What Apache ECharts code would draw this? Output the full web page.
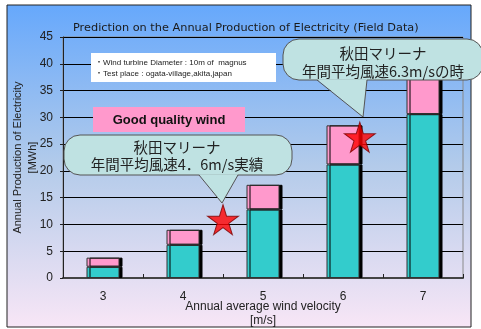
<!DOCTYPE html>
<html><head><meta charset="utf-8">
<script src="https://cdn.jsdelivr.net/npm/echarts@6/dist/echarts.min.js"></script>
<style>html,body{margin:0;padding:0;background:#fff}#c{width:481px;height:329px}</style>
</head><body><div id="c"></div>
<script>
// ---- data ----
const categories = ['3', '4', '5', '6', '7'];
const measuredValues = [2.1, 6.2, 12.8, 21.2, 30.6];   // teal segment
const extraValues = [1.7, 2.8, 4.6, 7.3, 8.4];         // pink segment on top
const starPoints = [[4.5, 10.9], [6.21, 26.3]];        // [wind velocity, MWh]
const yMin = 0, yMax = 45, yStep = 5;
const titleText = 'Prediction on the Annual Production of Electricity (Field Data)';
const yAxisName = 'Annual Production of Electricity\n[MWh]';
const xAxisName = 'Annual average wind velocity\n[m/s]';
const noteLines = ['・Wind turbine Diameter : 10m of  magnus', '・Test place : ogata-village,akita,japan'];
const badgeText = 'Good quality wind';
const callout1Lines = ['秋田マリーナ', '年間平均風速4．6m/s実績'];
const callout2Lines = ['秋田マリーナ', '年間平均風速6.3m/sの時'];

const FONT = '"Liberation Sans", Arial, "Noto Sans CJK JP", sans-serif';
const CJK = '"Noto Sans CJK JP", "Liberation Sans", sans-serif';
const starPath = 'path://M50,0 L61,35 L98,35 L68,57 L79,91 L50,70 L21,91 L32,57 L2,35 L39,35 Z';
const bubbleFill = '#bfe2e2';
const bubbleStroke = '#555';

const chart = echarts.init(document.getElementById('c'), null, {renderer: 'canvas'});

const shadowStyle = {shadowColor: '#000', shadowBlur: 0, shadowOffsetX: 3, shadowOffsetY: 0};

chart.setOption({
  animation: false,
  backgroundColor: '#fff',
  title: {
    text: titleText, left: 68, top: 18,
    textStyle: {fontFamily: '"DejaVu Sans", sans-serif', fontSize: 11.3, fontWeight: 'normal', color: '#1a1a1a'}
  },
  grid: {left: 63, right: 18, top: 37, bottom: 51, containLabel: false, outerBoundsMode: 'none',
         show: true, backgroundColor: 'transparent', borderColor: '#8a8a8a', borderWidth: 1},
  xAxis: [{
    type: 'category', data: categories,
    axisLine: {lineStyle: {color: '#444', width: 2}},
    axisTick: {show: true, inside: true, length: 4, lineStyle: {color: '#222'}},
    axisLabel: {fontFamily: FONT, fontSize: 12, color: '#222', margin: 13},
    name: xAxisName, nameLocation: 'middle', nameGap: 22, nameMoveOverlap: false,
    nameTextStyle: {fontFamily: FONT, fontSize: 12, color: '#222', lineHeight: 14}
  }, {
    type: 'value', min: 2.5, max: 7.5, show: false
  }],
  yAxis: {
    type: 'value', min: yMin, max: yMax, interval: yStep,
    axisLine: {show: true, lineStyle: {color: '#222', width: 1}},
    axisTick: {show: true, length: 3, lineStyle: {color: '#222'}},
    axisLabel: {fontFamily: FONT, fontSize: 12, color: '#222', margin: 10},
    splitLine: {lineStyle: {color: '#000', width: 1}},
    name: yAxisName, nameLocation: 'middle', nameGap: 23, nameMoveOverlap: false,
    nameTextStyle: {fontFamily: FONT, fontSize: 11, color: '#222', lineHeight: 15}
  },
  series: [{
    type: 'bar', stack: 'a', data: measuredValues, barWidth: 33,
    itemStyle: Object.assign({color: '#33cccc', borderColor: '#333', borderWidth: 1}, shadowStyle)
  }, {
    type: 'bar', stack: 'a', data: extraValues, barWidth: 33,
    itemStyle: Object.assign({color: '#ff99cc', borderColor: '#333', borderWidth: 1}, shadowStyle)
  }, {
    type: 'scatter', xAxisIndex: 1, data: starPoints, symbol: starPath, symbolSize: [31, 30], z: 20,
    itemStyle: {color: '#ff0000', borderColor: '#7a0000', borderWidth: 1}
  }],
  graphic: [
    // panel background
    {type: 'rect', z: -100, shape: {x: 7, y: 5, width: 464, height: 322},
     style: {fill: new echarts.graphic.LinearGradient(0, 0, 0, 1, [
       {offset: 0, color: '#66a8fc'}, {offset: 0.5, color: '#b3cbea'}, {offset: 1, color: '#f8e6f6'}]),
       stroke: '#222', lineWidth: 1}},
    // note box
    {type: 'rect', z: 50, shape: {x: 91, y: 53, width: 185, height: 29}, style: {fill: '#fff'}},
    {type: 'text', z: 51, x: 95, y: 63, style: {text: noteLines[0], font: '8px ' + FONT, fill: '#222', verticalAlign: 'middle', textVerticalAlign: 'middle'}},
    {type: 'text', z: 51, x: 95, y: 74, style: {text: noteLines[1], font: '8px ' + FONT, fill: '#222', verticalAlign: 'middle', textVerticalAlign: 'middle'}},
    // good quality badge
    {type: 'rect', z: 50, shape: {x: 93, y: 107, width: 152, height: 25}, style: {fill: '#ff99cc'}},
    {type: 'text', z: 51, x: 169, y: 120, style: {text: badgeText, font: 'bold 13px ' + FONT, fill: '#111', align: 'center', textAlign: 'center', verticalAlign: 'middle', textVerticalAlign: 'middle'}},
    // callout 1
    {type: 'rect', z: 60, shape: {x: 64, y: 135, width: 228, height: 40, r: 16}, style: {fill: bubbleFill, stroke: bubbleStroke, lineWidth: 1}},
    {type: 'polygon', z: 61, shape: {points: [[199, 174.3], [222, 203], [238, 174.3]]}, style: {fill: bubbleFill}},
    {type: 'polyline', z: 62, shape: {points: [[199, 175], [222, 203], [238, 175]]}, style: {stroke: bubbleStroke, lineWidth: 1, fill: null}},
    {type: 'text', z: 63, x: 177, y: 147, style: {text: callout1Lines[0], font: '14.5px ' + CJK, fill: '#222', align: 'center', textAlign: 'center', verticalAlign: 'middle', textVerticalAlign: 'middle'}},
    {type: 'text', z: 63, x: 177, y: 164, style: {text: callout1Lines[1], font: '14.5px ' + CJK, fill: '#222', align: 'center', textAlign: 'center', verticalAlign: 'middle', textVerticalAlign: 'middle'}},
    // callout 2
    {type: 'rect', z: 60, shape: {x: 283, y: 39, width: 200, height: 41, r: 16}, style: {fill: bubbleFill, stroke: bubbleStroke, lineWidth: 1}},
    {type: 'polygon', z: 61, shape: {points: [[317, 79.3], [363, 117], [367, 79.3]]}, style: {fill: bubbleFill}},
    {type: 'polyline', z: 62, shape: {points: [[317, 80], [363, 117], [367, 80]]}, style: {stroke: bubbleStroke, lineWidth: 1, fill: null}},
    {type: 'text', z: 63, x: 383, y: 53, style: {text: callout2Lines[0], font: '14.5px ' + CJK, fill: '#222', align: 'center', textAlign: 'center', verticalAlign: 'middle', textVerticalAlign: 'middle'}},
    {type: 'text', z: 63, x: 383, y: 71, style: {text: callout2Lines[1], font: '14.5px ' + CJK, fill: '#222', align: 'center', textAlign: 'center', verticalAlign: 'middle', textVerticalAlign: 'middle'}}
  ]
});
</script></body></html>
